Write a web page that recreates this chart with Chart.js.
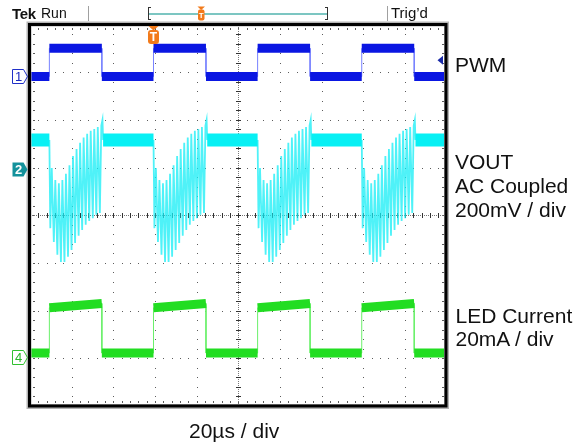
<!DOCTYPE html>
<html>
<head>
<meta charset="utf-8">
<script src="https://cdn.jsdelivr.net/npm/chart.js@4.4.0/dist/chart.umd.min.js"></script>
<style>
  body { margin: 0; background: #fff; }
  #wrap { position: relative; width: 582px; height: 445px; overflow: hidden;
          font-family: "Liberation Sans", Arial, sans-serif; color: #111; }
  #scope { position: absolute; left: 0; top: 0; }
  .lbl { position: absolute; font-size: 21px; line-height: 21px; white-space: nowrap; }
</style>
</head>
<body>
<div id="wrap">
  <canvas id="scope" width="582" height="445"></canvas>
  <div class="lbl" style="left:12px;top:5.6px;font-size:15px;line-height:15px;font-weight:bold;letter-spacing:-0.3px">Tek</div>
  <div class="lbl" style="left:41px;top:6.4px;font-size:14px;line-height:14px">Run</div>
  <div class="lbl" style="left:391px;top:5px;font-size:15px;line-height:15px">Trig’d</div>
  <div class="lbl" style="left:455px;top:53.9px">PWM</div>
  <div class="lbl" style="left:455px;top:149.6px;line-height:24.3px">VOUT<br>AC Coupled<br>200mV / div</div>
  <div class="lbl" style="left:455.5px;top:303.7px;line-height:23.4px">LED Current<br>20mA / div</div>
  <div class="lbl" style="left:189px;top:420.2px">20µs / div</div>
</div>
<script>
// time axis in µs (20 µs / div, 10 div), vertical axis in screen divisions (8 div)
const timeTicks = [0, 20, 40, 60, 80, 100, 120, 140, 160, 180, 200];
const divTicks = [-4, -3, -2, -1, 0, 1, 2, 3, 4];

// PWM edges
const riseUs = [9.3, 59.3, 109.3, 159.3];
const fallUs = [34.5, 84.5, 134.5, 184.5];

// levels in divisions
const pwmLevels = [2.91, 3.50];          // low, high
const ledLevels = [-2.89, -1.94, -1.85]; // low, high at turn on, high at turn off
const voutFlat = 1.58;
const voutKick = 2.0;                    // spike when the LED switches off

// ringing on VOUT while the PWM is high (µs after the rising edge)
const spikeUs = [0.8, 2.5, 4.2, 5.9, 7.6, 9.3, 11.0, 12.7, 14.4, 16.1, 17.8, 19.5, 21.2, 22.9, 24.6];
const spikeTop = [0.99, 0.74, 0.67, 0.74, 0.87, 1.05, 1.24, 1.39, 1.52, 1.63, 1.71, 1.77, 1.81, 1.85, 1.88];
const spikeBottom = [-0.27, -0.56, -0.83, -0.98, -0.98, -0.87, -0.73, -0.58, -0.43, -0.31, -0.20, -0.12, -0.06, 0.01, 0.05];

// channel ground markers (ch1, ch2, ch4) and trigger level
const chanGround = [2.91, 0.97, -2.97];
const trigLevel = 3.25;
const trigUs = riseUs[1];

// full step trace (thin, shows the edges)
function stepLine(lo, hiA, hiB) {
  const pts = [{x: 0, y: lo}];
  riseUs.forEach((r, i) => {
    pts.push({x: r, y: lo}, {x: r, y: hiA}, {x: fallUs[i], y: hiB}, {x: fallUs[i], y: lo});
  });
  pts.push({x: 200, y: lo});
  return pts;
}
// only the flat parts, broken at edges so the thick noise band stays flat
function bandLine(lo, hiA, hiB) {
  const pts = [{x: 0, y: lo}];
  riseUs.forEach((r, i) => {
    pts.push({x: r, y: lo}, {x: r, y: null}, {x: r, y: hiA}, {x: fallUs[i], y: hiB},
             {x: fallUs[i], y: null}, {x: fallUs[i], y: lo});
  });
  pts.push({x: 200, y: lo});
  return pts;
}

const voutBand = [{x: 0, y: voutFlat}];
riseUs.forEach((r, i) => {
  voutBand.push({x: r, y: voutFlat}, {x: r, y: null}, {x: fallUs[i] + 0.6, y: voutFlat});
});
voutBand.push({x: 200, y: voutFlat});

const voutRing = [];
riseUs.forEach((r, i) => {
  voutRing.push({x: r, y: voutFlat});
  spikeUs.forEach((o, k) => {
    voutRing.push({x: r + o - 0.35, y: spikeBottom[k]}, {x: r + o + 0.35, y: spikeTop[k]});
  });
  voutRing.push({x: fallUs[i] + 0.3, y: voutKick}, {x: fallUs[i] + 0.6, y: voutFlat},
                {x: fallUs[i] + 0.6, y: null});
});

const BLUE = '#0a16e2', CYAN = '#08f0f4', GREEN = '#22dd22';

const scopeGrid = {
  id: 'scopeGrid',
  beforeDatasetsDraw(chart) {
    const {ctx, chartArea: a, scales: {x, y}} = chart;
    ctx.save();
    ctx.fillStyle = '#5c5c5c';
    const dot = (px, py) => ctx.fillRect(Math.round(px), Math.round(py), 1, 1);
    // vertical lines
    timeTicks.forEach(t => {
      let px = x.getPixelForValue(t);
      if (t === 0) px += 3;
      if (t === 200) px -= 4;
      for (let v = -4; v <= 4.001; v += 0.2) {
        const py = y.getPixelForValue(v);
        if (t === 100) continue;
        dot(px, py);
        if (t === 0 || t === 200) dot(px + (t === 0 ? 1 : -1), py);
      }
    });
    // horizontal lines
    divTicks.forEach(v => {
      let py = y.getPixelForValue(v);
      if (v === 4) py += 3;
      if (v === -4) py -= 4;
      for (let t = 0; t <= 200.001; t += 4) {
        if (v === 0) continue;
        const px = x.getPixelForValue(t);
        dot(px, py);
        if (v === 4 || v === -4) dot(px, py + (v === 4 ? 1 : -1));
      }
    });
    // centre crosshair with minor ticks
    const cx = Math.round(x.getPixelForValue(100)), cy = Math.round(y.getPixelForValue(0));
    ctx.fillStyle = '#777';
    for (let px = a.left; px < a.right; px += 2) ctx.fillRect(Math.round(px), cy, 1, 1);
    for (let py = a.top; py < a.bottom; py += 2) ctx.fillRect(cx, Math.round(py), 1, 1);
    ctx.fillStyle = '#333';
    for (let t = 0; t <= 200.001; t += 4) {
      const px = Math.round(x.getPixelForValue(t));
      ctx.fillRect(px, cy - 2, 1, 5);
    }
    for (let v = -4; v <= 4.001; v += 0.2) {
      const py = Math.round(y.getPixelForValue(v));
      ctx.fillRect(cx - 2, py, 5, 1);
    }
    ctx.restore();
  }
};

const scopeFrame = {
  id: 'scopeFrame',
  afterDatasetsDraw(chart) {
    const {ctx, chartArea: a, scales: {x, y}} = chart;
    ctx.save();
    // frame
    ctx.strokeStyle = '#b4b4b4';
    ctx.lineWidth = 5;
    ctx.strokeRect(a.left - 1, a.top - 0.5, a.right - a.left + 1, a.bottom - a.top + 1);
    ctx.strokeStyle = '#000';
    ctx.lineWidth = 3;
    ctx.strokeRect(a.left - 0.5, a.top, a.right - a.left, a.bottom - a.top);

    // channel markers on the left
    const marker = (yc, stroke, fill, txt, txtColor) => {
      yc = Math.round(yc) + 0.5;
      ctx.beginPath();
      ctx.moveTo(12.5, yc - 7); ctx.lineTo(23.5, yc - 7); ctx.lineTo(27.5, yc);
      ctx.lineTo(23.5, yc + 7); ctx.lineTo(12.5, yc + 7); ctx.closePath();
      if (fill) { ctx.fillStyle = fill; ctx.fill(); }
      if (stroke) { ctx.strokeStyle = stroke; ctx.lineWidth = 1; ctx.stroke(); }
      ctx.fillStyle = txtColor;
      ctx.font = (fill ? 'bold ' : '') + '13px "Liberation Sans", Arial, sans-serif';
      ctx.textAlign = 'center';
      ctx.textBaseline = 'middle';
      ctx.fillText(txt, 18.5, yc + 0.5);
    };
    marker(y.getPixelForValue(chanGround[0]), '#2030c8', null, '1', '#1a28c0');
    marker(y.getPixelForValue(chanGround[1]), null, '#14929c', '2', '#fff');
    marker(y.getPixelForValue(chanGround[2]), '#30c030', null, '4', '#28b828');

    // trigger position marker under the top edge
    const orange = '#f27a1a';
    const tx = x.getPixelForValue(trigUs);
    ctx.fillStyle = orange;
    ctx.beginPath();
    ctx.moveTo(tx - 5, a.top + 1.5); ctx.lineTo(tx + 5, a.top + 1.5); ctx.lineTo(tx, a.top + 6);
    ctx.closePath(); ctx.fill();
    ctx.beginPath();
    ctx.roundRect(tx - 5.5, a.top + 5.5, 11, 14, 3);
    ctx.fill();
    ctx.fillStyle = '#fff';
    ctx.font = 'bold 12px "Liberation Sans", Arial, sans-serif';
    ctx.textAlign = 'center'; ctx.textBaseline = 'middle';
    ctx.fillText('T', tx, a.top + 13);

    // trigger level arrow on the right
    const ty = y.getPixelForValue(trigLevel);
    ctx.fillStyle = '#1a2aa8';
    ctx.beginPath();
    ctx.moveTo(437.5, ty); ctx.lineTo(443, ty - 4.5); ctx.lineTo(443, ty + 4.5);
    ctx.closePath(); ctx.fill();

    // status bar: separators, record window and trigger point
    ctx.fillStyle = '#a0a0a0';
    ctx.fillRect(88, 6, 1, 15);
    ctx.fillRect(387, 6, 1, 15);
    ctx.fillStyle = '#7cc6c2';
    ctx.fillRect(149, 13, 178, 2);
    ctx.fillStyle = '#333';
    ctx.fillRect(148, 7, 1, 13); ctx.fillRect(148, 7, 3, 1); ctx.fillRect(148, 19, 3, 1);
    ctx.fillRect(327, 7, 1, 13); ctx.fillRect(325, 7, 3, 1); ctx.fillRect(325, 19, 3, 1);
    ctx.fillStyle = orange;
    ctx.beginPath();
    ctx.moveTo(197.5, 6.5); ctx.lineTo(205, 6.5); ctx.lineTo(201.2, 10);
    ctx.closePath(); ctx.fill();
    ctx.beginPath(); ctx.roundRect(198, 9.5, 6.5, 11, 2); ctx.fill();
    ctx.fillStyle = '#fff';
    ctx.font = 'bold 8px "Liberation Sans", Arial, sans-serif';
    ctx.fillText('T', 201.3, 15.5);
    ctx.restore();
  }
};

new Chart(document.getElementById('scope'), {
  type: 'line',
  data: {
    datasets: [
      {data: bandLine(pwmLevels[0], pwmLevels[1], pwmLevels[1]), borderColor: BLUE, borderWidth: 9},
      {data: stepLine(pwmLevels[0], pwmLevels[1], pwmLevels[1]), borderColor: '#7882ff', borderWidth: 1},
      {data: voutBand, borderColor: CYAN, borderWidth: 13},
      {data: voutRing, borderColor: 'rgba(20,238,246,0.75)', borderWidth: 1.8},
      {data: bandLine(ledLevels[0], ledLevels[1], ledLevels[2]), borderColor: GREEN, borderWidth: 9},
      {data: stepLine(ledLevels[0], ledLevels[1], ledLevels[2]), borderColor: '#6af06a', borderWidth: 1}
    ]
  },
  options: {
    responsive: false,
    animation: false,
    events: [],
    layout: {padding: {left: 30, right: 135.5, top: 24.5, bottom: 39}},
    plugins: {legend: {display: false}, tooltip: {enabled: false}},
    elements: {
      point: {radius: 0},
      line: {tension: 0, borderCapStyle: 'butt', borderJoinStyle: 'miter', fill: false}
    },
    scales: {
      x: {type: 'linear', min: 0, max: 200, display: false},
      y: {type: 'linear', min: -4, max: 4, display: false}
    }
  },
  plugins: [scopeGrid, scopeFrame]
});
</script>
</body>
</html>
